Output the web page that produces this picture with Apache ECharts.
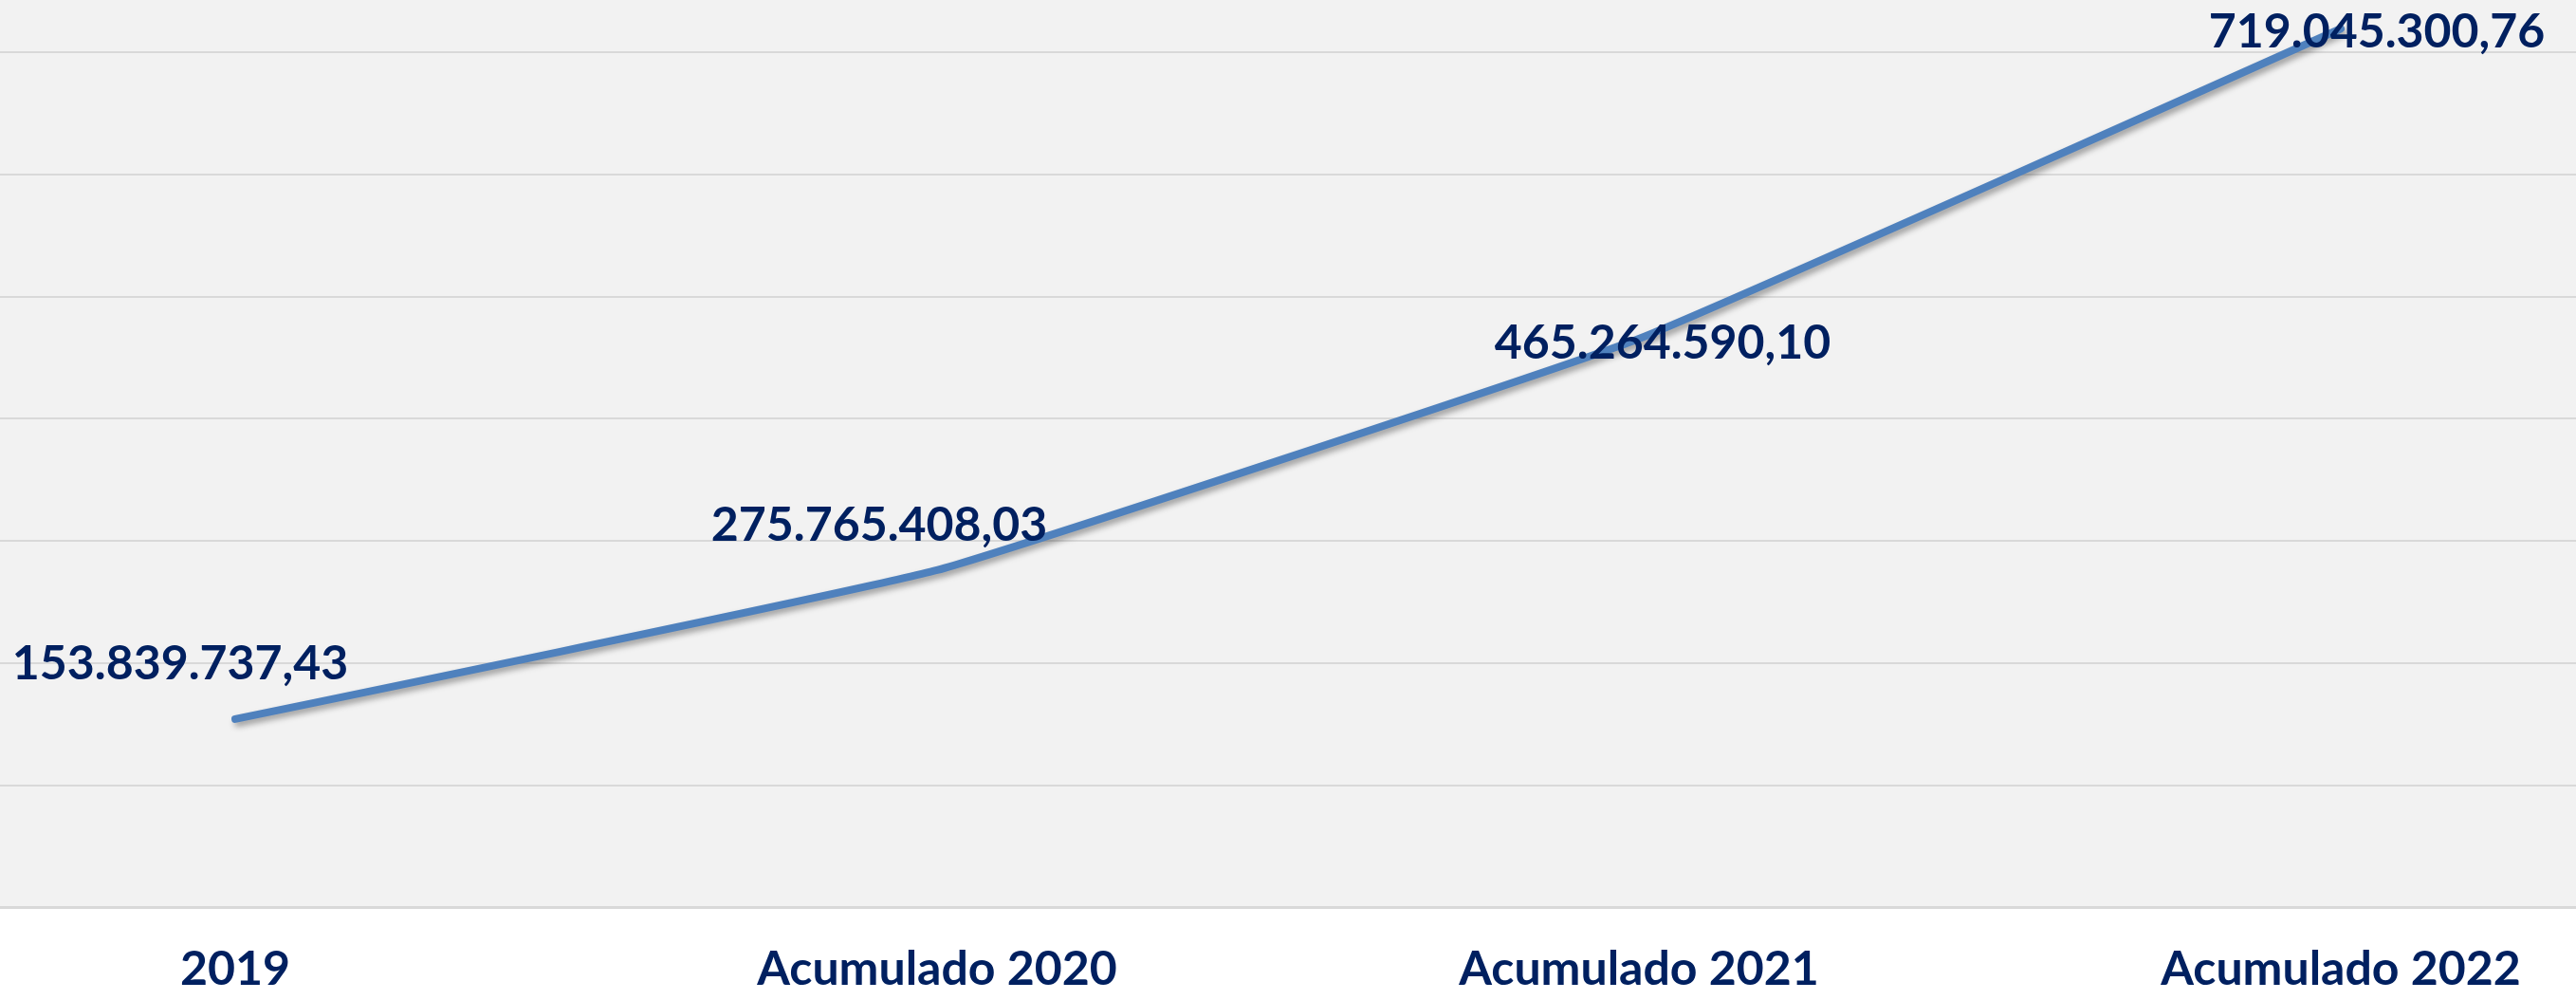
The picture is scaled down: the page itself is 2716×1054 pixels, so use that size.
<!DOCTYPE html>
<html>
<head>
<meta charset="utf-8">
<script src="https://cdn.jsdelivr.net/npm/echarts@6/dist/echarts.min.js"></script>
<style>
  html, body { margin: 0; padding: 0; background: #fff; overflow: hidden; }
  #wrap { position: relative; width: 2716px; height: 1054px; overflow: hidden; }
  /* el área de trazado se sale de la imagen por los lados y por arriba */
  #line_chart { position: absolute; left: -122px; top: -74px; width: 2960px; height: 1128px; }
</style>
</head>
<body>
<div id="wrap"><div id="line_chart"></div></div>
<script>
// categorias del eje x
const categorias = ['2019', 'Acumulado 2020', 'Acumulado 2021', 'Acumulado 2022'];
// valores acumulados
const valores = [153839737.43, 275765408.03, 465264590.10, 719045300.76];
// escala del eje y
const yMin = 0;
const yMax = 800000000;
const yInterval = 100000000;

// formato 153.839.737,43
function formatoES(v) {
  let partes = v.toFixed(2).split('.');
  let entero = partes[0].replace(/\B(?=(\d{3})+(?!\d))/g, '.');
  return entero + ',' + partes[1];
}

const qCharts = echarts.init(document.getElementById('line_chart'));

// desplazamiento de cada etiqueta respecto al punto
const offsets = [[-58, -58], [-61, -47], [25, 5], [38, 4]];

let option = {
  backgroundColor: '#fff',
  textStyle: { fontFamily: 'Lato', fontWeight: 'bold' },
  grid: {
    left: 0,
    right: 0,
    top: 0,
    bottom: 98,
    show: true,
    backgroundColor: '#F2F2F2',
    borderWidth: 0
  },
  xAxis: {
    type: 'category',
    boundaryGap: true,
    data: categorias,
    axisLine: { show: true, lineStyle: { color: '#D9D9D9', width: 3 } },
    axisTick: { show: false },
    axisLabel: {
      color: '#002060',
      fontFamily: 'Lato',
      fontWeight: 'bold',
      fontSize: 50,
      lineHeight: 56,
      margin: 38
    }
  },
  yAxis: {
    type: 'value',
    min: yMin,
    max: yMax,
    interval: yInterval,
    axisLine: { show: false },
    axisTick: { show: false },
    axisLabel: { show: false },
    splitLine: { show: true, lineStyle: { color: '#D9D9D9', width: 2 } }
  },
  series: [{
    type: 'line',
    smooth: 0.1,
    symbol: 'circle',
    symbolSize: 1,
    showSymbol: true,
    itemStyle: { color: '#4F81BD' },
    lineStyle: {
      color: '#4F81BD',
      width: 8,
      cap: 'round',
      shadowColor: 'rgba(0, 0, 0, 0.35)',
      shadowBlur: 6,
      shadowOffsetX: 3,
      shadowOffsetY: 4
    },
    label: {
      show: true,
      position: 'inside',
      color: '#002060',
      fontFamily: 'Lato',
      fontWeight: 'bold',
      fontSize: 50,
      formatter: p => formatoES(p.value)
    },
    data: valores.map((v, i) => ({ value: v, label: { offset: offsets[i] } }))
  }]
};

qCharts.setOption(option);
</script>
</body>
</html>
